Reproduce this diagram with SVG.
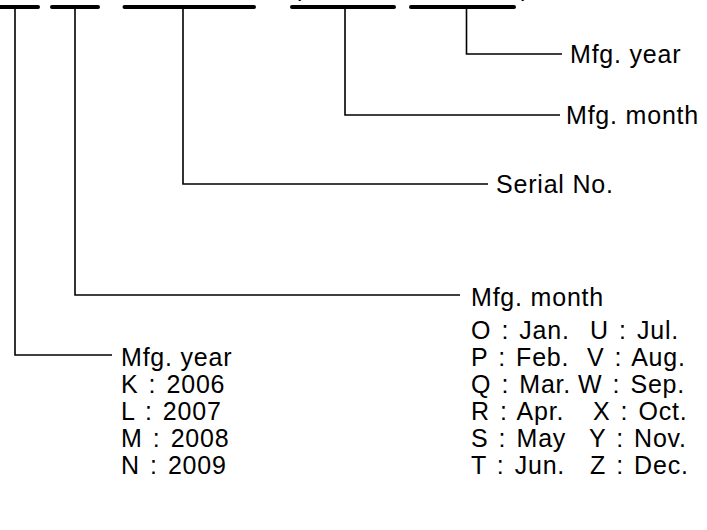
<svg xmlns="http://www.w3.org/2000/svg" width="707" height="530" viewBox="0 0 707 530">
<style>
.bar{stroke:#000;stroke-width:4;stroke-linecap:round;fill:none}
.ln{stroke:#000;stroke-width:1.6;fill:none}
text{font-family:"Liberation Sans",Arial,sans-serif;font-size:25px;fill:#000;letter-spacing:0.8px}
.it{word-spacing:2.4px}
</style>
<rect width="707" height="530" fill="#fff"/>
<g id="code">
<line class="bar" x1="-4" y1="7" x2="38" y2="7"/>
<line class="bar" x1="52" y1="7" x2="98" y2="7"/>
<line class="bar" x1="124.5" y1="7" x2="254" y2="7"/>
<line class="bar" x1="292" y1="7" x2="394" y2="7"/>
<line class="bar" x1="411" y1="7" x2="514" y2="7"/>
<text x="293" y="-4">(</text>
<text x="521" y="-4">)</text>
</g>
<g id="connectors">
<polyline class="ln" points="15,9 15,355 112,355"/>
<polyline class="ln" points="75,9 75,295 460,295"/>
<polyline class="ln" points="183,9 183,184 488,184"/>
<polyline class="ln" points="345,9 345,115 560,115"/>
<polyline class="ln" points="466.5,9 466.5,54 562,54"/>
</g>
<g id="label-year-top"><text x="570" y="63">Mfg. year</text></g>
<g id="label-month-top"><text x="566" y="124">Mfg. month</text></g>
<g id="label-serial"><text x="496" y="193">Serial No.</text></g>
<g id="label-month-list">
<text x="471" y="306">Mfg. month</text>
<text class="it" x="471" y="339">O : Jan.</text>
<text class="it" x="471" y="366">P : Feb.</text>
<text class="it" x="471" y="393">Q : Mar.</text>
<text class="it" x="471" y="420">R : Apr.</text>
<text class="it" x="471" y="447">S : May</text>
<text class="it" x="471" y="474">T : Jun.</text>
<text class="it" x="590" y="339">U : Jul.</text>
<text class="it" x="587" y="366">V : Aug.</text>
<text class="it" x="578" y="393">W : Sep.</text>
<text class="it" x="593" y="420">X : Oct.</text>
<text class="it" x="589" y="447">Y : Nov.</text>
<text class="it" x="590" y="474">Z : Dec.</text>
</g>
<g id="label-year-list">
<text x="121" y="366">Mfg. year</text>
<text class="it" x="121" y="393">K : 2006</text>
<text class="it" x="121" y="420">L : 2007</text>
<text class="it" x="121" y="447">M : 2008</text>
<text class="it" x="121" y="474">N : 2009</text>
</g>
</svg>
